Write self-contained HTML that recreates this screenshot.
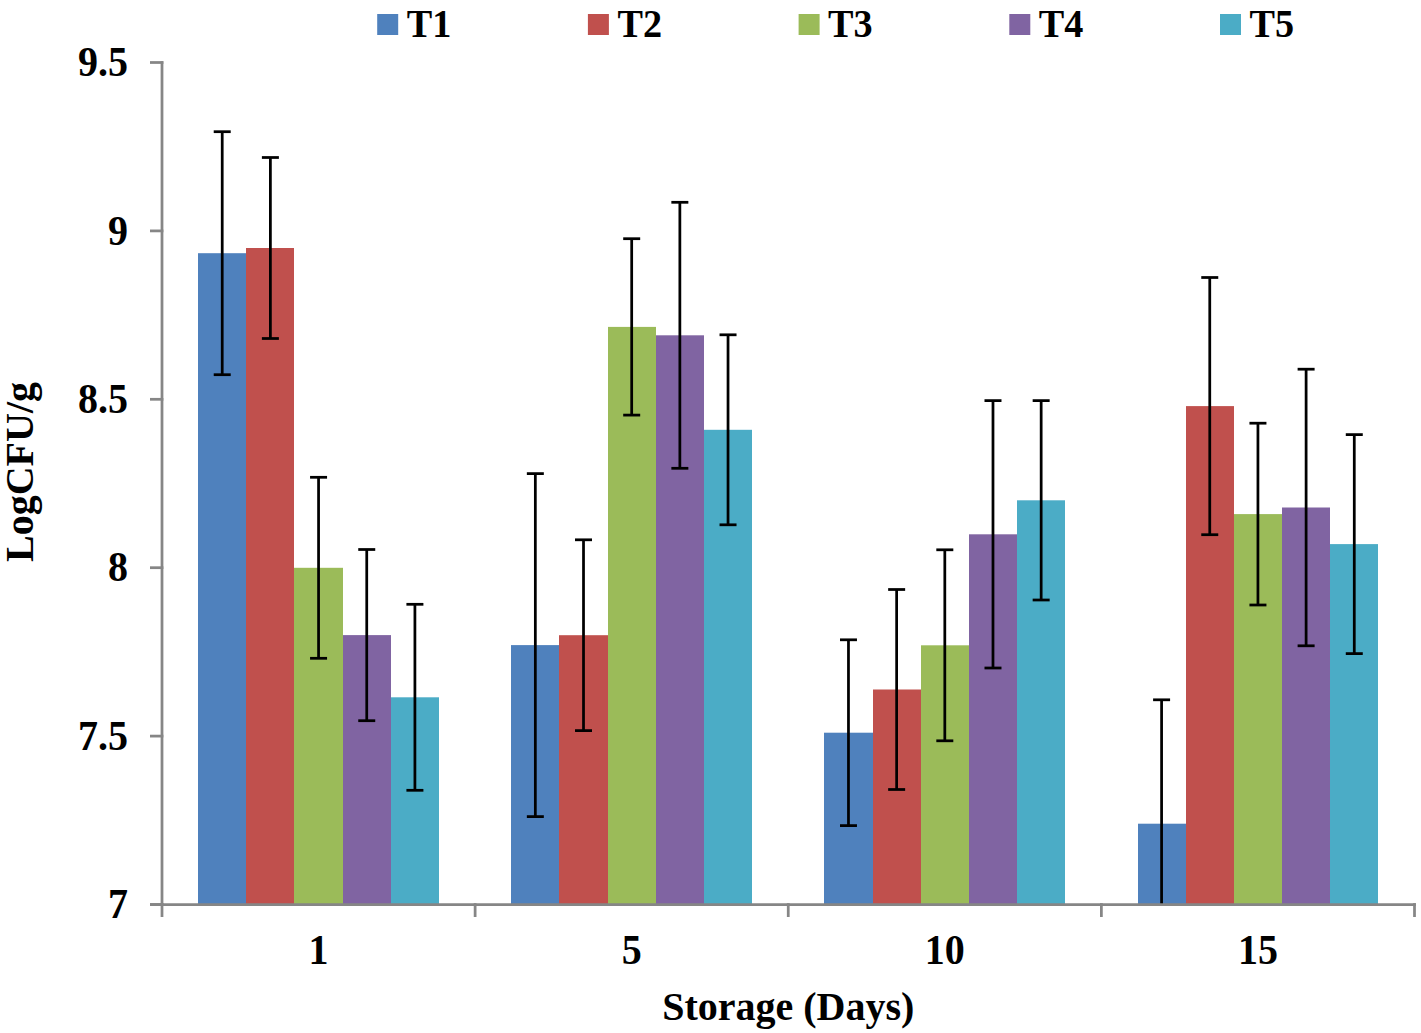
<!DOCTYPE html>
<html><head><meta charset="utf-8"><style>
html,body{margin:0;padding:0;background:#fff;}
body{width:1421px;height:1033px;overflow:hidden;}
svg{display:block;}
.t{font-family:"Liberation Serif",serif;font-weight:bold;font-size:40px;fill:#000;}
</style></head><body>
<svg width="1421" height="1033" viewBox="0 0 1421 1033">
<rect width="1421" height="1033" fill="#fff"/>
<rect x="198" y="253.20" width="48" height="651.30" fill="#4F81BD"/>
<rect x="246" y="248.00" width="48" height="656.50" fill="#C0504D"/>
<rect x="294" y="567.80" width="49" height="336.70" fill="#9BBB59"/>
<rect x="343" y="635.10" width="48" height="269.40" fill="#8064A2"/>
<rect x="391" y="697.30" width="48" height="207.20" fill="#4BACC6"/>
<rect x="511" y="645.10" width="48" height="259.40" fill="#4F81BD"/>
<rect x="559" y="635.20" width="49" height="269.30" fill="#C0504D"/>
<rect x="608" y="326.90" width="48" height="577.60" fill="#9BBB59"/>
<rect x="656" y="335.30" width="48" height="569.20" fill="#8064A2"/>
<rect x="704" y="429.80" width="48" height="474.70" fill="#4BACC6"/>
<rect x="824" y="732.70" width="49" height="171.80" fill="#4F81BD"/>
<rect x="873" y="689.50" width="48" height="215.00" fill="#C0504D"/>
<rect x="921" y="645.30" width="48" height="259.20" fill="#9BBB59"/>
<rect x="969" y="534.30" width="48" height="370.20" fill="#8064A2"/>
<rect x="1017" y="500.30" width="48" height="404.20" fill="#4BACC6"/>
<rect x="1138" y="823.70" width="48" height="80.80" fill="#4F81BD"/>
<rect x="1186" y="406.10" width="48" height="498.40" fill="#C0504D"/>
<rect x="1234" y="514.10" width="48" height="390.40" fill="#9BBB59"/>
<rect x="1282" y="507.50" width="48" height="397.00" fill="#8064A2"/>
<rect x="1330" y="544.10" width="48" height="360.40" fill="#4BACC6"/>
<line x1="222.22" y1="131.70" x2="222.22" y2="374.70" stroke="#000" stroke-width="2.75"/>
<line x1="213.72" y1="131.70" x2="230.72" y2="131.70" stroke="#000" stroke-width="2.75"/>
<line x1="213.72" y1="374.70" x2="230.72" y2="374.70" stroke="#000" stroke-width="2.75"/>
<line x1="270.39" y1="157.50" x2="270.39" y2="338.50" stroke="#000" stroke-width="2.75"/>
<line x1="261.89" y1="157.50" x2="278.89" y2="157.50" stroke="#000" stroke-width="2.75"/>
<line x1="261.89" y1="338.50" x2="278.89" y2="338.50" stroke="#000" stroke-width="2.75"/>
<line x1="318.56" y1="477.30" x2="318.56" y2="658.30" stroke="#000" stroke-width="2.75"/>
<line x1="310.06" y1="477.30" x2="327.06" y2="477.30" stroke="#000" stroke-width="2.75"/>
<line x1="310.06" y1="658.30" x2="327.06" y2="658.30" stroke="#000" stroke-width="2.75"/>
<line x1="366.74" y1="549.50" x2="366.74" y2="720.70" stroke="#000" stroke-width="2.75"/>
<line x1="358.24" y1="549.50" x2="375.24" y2="549.50" stroke="#000" stroke-width="2.75"/>
<line x1="358.24" y1="720.70" x2="375.24" y2="720.70" stroke="#000" stroke-width="2.75"/>
<line x1="414.91" y1="604.30" x2="414.91" y2="790.30" stroke="#000" stroke-width="2.75"/>
<line x1="406.41" y1="604.30" x2="423.41" y2="604.30" stroke="#000" stroke-width="2.75"/>
<line x1="406.41" y1="790.30" x2="423.41" y2="790.30" stroke="#000" stroke-width="2.75"/>
<line x1="535.34" y1="473.60" x2="535.34" y2="816.60" stroke="#000" stroke-width="2.75"/>
<line x1="526.84" y1="473.60" x2="543.84" y2="473.60" stroke="#000" stroke-width="2.75"/>
<line x1="526.84" y1="816.60" x2="543.84" y2="816.60" stroke="#000" stroke-width="2.75"/>
<line x1="583.51" y1="539.80" x2="583.51" y2="730.60" stroke="#000" stroke-width="2.75"/>
<line x1="575.01" y1="539.80" x2="592.01" y2="539.80" stroke="#000" stroke-width="2.75"/>
<line x1="575.01" y1="730.60" x2="592.01" y2="730.60" stroke="#000" stroke-width="2.75"/>
<line x1="631.69" y1="238.70" x2="631.69" y2="415.10" stroke="#000" stroke-width="2.75"/>
<line x1="623.19" y1="238.70" x2="640.19" y2="238.70" stroke="#000" stroke-width="2.75"/>
<line x1="623.19" y1="415.10" x2="640.19" y2="415.10" stroke="#000" stroke-width="2.75"/>
<line x1="679.86" y1="202.30" x2="679.86" y2="468.30" stroke="#000" stroke-width="2.75"/>
<line x1="671.36" y1="202.30" x2="688.36" y2="202.30" stroke="#000" stroke-width="2.75"/>
<line x1="671.36" y1="468.30" x2="688.36" y2="468.30" stroke="#000" stroke-width="2.75"/>
<line x1="728.03" y1="334.80" x2="728.03" y2="524.80" stroke="#000" stroke-width="2.75"/>
<line x1="719.53" y1="334.80" x2="736.53" y2="334.80" stroke="#000" stroke-width="2.75"/>
<line x1="719.53" y1="524.80" x2="736.53" y2="524.80" stroke="#000" stroke-width="2.75"/>
<line x1="848.47" y1="639.80" x2="848.47" y2="825.60" stroke="#000" stroke-width="2.75"/>
<line x1="839.97" y1="639.80" x2="856.97" y2="639.80" stroke="#000" stroke-width="2.75"/>
<line x1="839.97" y1="825.60" x2="856.97" y2="825.60" stroke="#000" stroke-width="2.75"/>
<line x1="896.64" y1="589.50" x2="896.64" y2="789.50" stroke="#000" stroke-width="2.75"/>
<line x1="888.14" y1="589.50" x2="905.14" y2="589.50" stroke="#000" stroke-width="2.75"/>
<line x1="888.14" y1="789.50" x2="905.14" y2="789.50" stroke="#000" stroke-width="2.75"/>
<line x1="944.81" y1="549.80" x2="944.81" y2="740.80" stroke="#000" stroke-width="2.75"/>
<line x1="936.31" y1="549.80" x2="953.31" y2="549.80" stroke="#000" stroke-width="2.75"/>
<line x1="936.31" y1="740.80" x2="953.31" y2="740.80" stroke="#000" stroke-width="2.75"/>
<line x1="992.99" y1="400.60" x2="992.99" y2="668.00" stroke="#000" stroke-width="2.75"/>
<line x1="984.49" y1="400.60" x2="1001.49" y2="400.60" stroke="#000" stroke-width="2.75"/>
<line x1="984.49" y1="668.00" x2="1001.49" y2="668.00" stroke="#000" stroke-width="2.75"/>
<line x1="1041.16" y1="400.60" x2="1041.16" y2="600.00" stroke="#000" stroke-width="2.75"/>
<line x1="1032.66" y1="400.60" x2="1049.66" y2="400.60" stroke="#000" stroke-width="2.75"/>
<line x1="1032.66" y1="600.00" x2="1049.66" y2="600.00" stroke="#000" stroke-width="2.75"/>
<line x1="1161.59" y1="699.80" x2="1161.59" y2="904.50" stroke="#000" stroke-width="2.75"/>
<line x1="1153.09" y1="699.80" x2="1170.09" y2="699.80" stroke="#000" stroke-width="2.75"/>
<line x1="1209.76" y1="277.50" x2="1209.76" y2="534.70" stroke="#000" stroke-width="2.75"/>
<line x1="1201.26" y1="277.50" x2="1218.26" y2="277.50" stroke="#000" stroke-width="2.75"/>
<line x1="1201.26" y1="534.70" x2="1218.26" y2="534.70" stroke="#000" stroke-width="2.75"/>
<line x1="1257.94" y1="423.20" x2="1257.94" y2="605.00" stroke="#000" stroke-width="2.75"/>
<line x1="1249.44" y1="423.20" x2="1266.44" y2="423.20" stroke="#000" stroke-width="2.75"/>
<line x1="1249.44" y1="605.00" x2="1266.44" y2="605.00" stroke="#000" stroke-width="2.75"/>
<line x1="1306.11" y1="369.20" x2="1306.11" y2="645.80" stroke="#000" stroke-width="2.75"/>
<line x1="1297.61" y1="369.20" x2="1314.61" y2="369.20" stroke="#000" stroke-width="2.75"/>
<line x1="1297.61" y1="645.80" x2="1314.61" y2="645.80" stroke="#000" stroke-width="2.75"/>
<line x1="1354.28" y1="434.60" x2="1354.28" y2="653.60" stroke="#000" stroke-width="2.75"/>
<line x1="1345.78" y1="434.60" x2="1362.78" y2="434.60" stroke="#000" stroke-width="2.75"/>
<line x1="1345.78" y1="653.60" x2="1362.78" y2="653.60" stroke="#000" stroke-width="2.75"/>
<line x1="162.0" y1="61.125" x2="162.0" y2="904.5" stroke="#868686" stroke-width="2.75"/>
<line x1="150" y1="904.50" x2="163.375" y2="904.50" stroke="#868686" stroke-width="2.75"/>
<line x1="150" y1="736.10" x2="163.375" y2="736.10" stroke="#868686" stroke-width="2.75"/>
<line x1="150" y1="567.70" x2="163.375" y2="567.70" stroke="#868686" stroke-width="2.75"/>
<line x1="150" y1="399.30" x2="163.375" y2="399.30" stroke="#868686" stroke-width="2.75"/>
<line x1="150" y1="230.90" x2="163.375" y2="230.90" stroke="#868686" stroke-width="2.75"/>
<line x1="150" y1="62.50" x2="163.375" y2="62.50" stroke="#868686" stroke-width="2.75"/>
<line x1="150" y1="904.5" x2="1415.875" y2="904.5" stroke="#868686" stroke-width="2.75"/>
<line x1="162.00" y1="903.125" x2="162.00" y2="917" stroke="#868686" stroke-width="2.75"/>
<line x1="475.12" y1="903.125" x2="475.12" y2="917" stroke="#868686" stroke-width="2.75"/>
<line x1="788.25" y1="903.125" x2="788.25" y2="917" stroke="#868686" stroke-width="2.75"/>
<line x1="1101.38" y1="903.125" x2="1101.38" y2="917" stroke="#868686" stroke-width="2.75"/>
<line x1="1414.50" y1="903.125" x2="1414.50" y2="917" stroke="#868686" stroke-width="2.75"/>
<text transform="translate(128,918.20) scale(1,1.05)" text-anchor="end" class="t">7</text>
<text transform="translate(128,749.80) scale(1,1.05)" text-anchor="end" class="t">7.5</text>
<text transform="translate(128,581.40) scale(1,1.05)" text-anchor="end" class="t">8</text>
<text transform="translate(128,413.00) scale(1,1.05)" text-anchor="end" class="t">8.5</text>
<text transform="translate(128,244.60) scale(1,1.05)" text-anchor="end" class="t">9</text>
<text transform="translate(128,76.20) scale(1,1.05)" text-anchor="end" class="t">9.5</text>
<text transform="translate(318.56,963.8) scale(1,1.04)" text-anchor="middle" class="t">1</text>
<text transform="translate(631.69,963.8) scale(1,1.04)" text-anchor="middle" class="t">5</text>
<text transform="translate(944.81,963.8) scale(1,1.04)" text-anchor="middle" class="t">10</text>
<text transform="translate(1257.94,963.8) scale(1,1.04)" text-anchor="middle" class="t">15</text>
<text x="788.25" y="1020" text-anchor="middle" class="t">Storage (Days)</text>
<text transform="translate(32.5,472) rotate(-90)" text-anchor="middle" class="t">LogCFU/g</text>
<rect x="377.20" y="14" width="21" height="21" fill="#4F81BD"/>
<text transform="translate(406.70,36.6) scale(0.955,1.02)" class="t">T1</text>
<rect x="587.90" y="14" width="21" height="21" fill="#C0504D"/>
<text transform="translate(617.40,36.6) scale(0.955,1.02)" class="t">T2</text>
<rect x="798.60" y="14" width="21" height="21" fill="#9BBB59"/>
<text transform="translate(828.10,36.6) scale(0.955,1.02)" class="t">T3</text>
<rect x="1009.30" y="14" width="21" height="21" fill="#8064A2"/>
<text transform="translate(1038.80,36.6) scale(0.955,1.02)" class="t">T4</text>
<rect x="1220.00" y="14" width="21" height="21" fill="#4BACC6"/>
<text transform="translate(1249.50,36.6) scale(0.955,1.02)" class="t">T5</text>
</svg>
</body></html>
